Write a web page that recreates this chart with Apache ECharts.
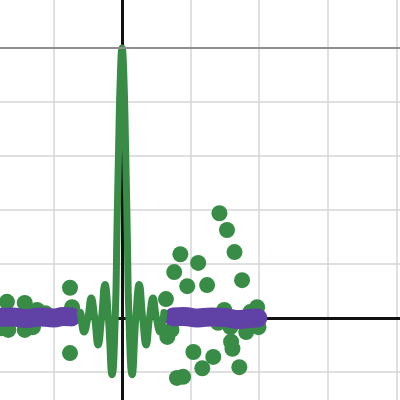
<!DOCTYPE html>
<html>
<head>
<meta charset="utf-8">
<script src="https://cdn.jsdelivr.net/npm/echarts@6/dist/echarts.min.js"></script>
<style>
  html, body { margin: 0; padding: 0; background: #fff; overflow: hidden; width: 400px; height: 400px; }
  /* chart is a bit bigger than the window so the axes land where the reference has them */
  #chart { position: absolute; left: -15px; top: -6px; width: 425px; height: 432px; }
</style>
</head>
<body>
<div id="chart"></div>
<script>
  // green wave (zeros + peaks)
  var curveX = [-0.61, -0.6, -0.555, -0.5, -0.45, -0.4, -0.35, -0.3, -0.25, -0.2, -0.146, -0.1, -0.075, -0.05, -0.025, 0,
                0.025, 0.05, 0.075, 0.1, 0.146, 0.2, 0.25, 0.3, 0.35, 0.4, 0.45, 0.5, 0.555, 0.6, 0.61];
  var curveY = [0.1, 0, -0.26, 0, 0.37, 0, -0.5, 0, 0.62, 0, -1.05, 0, 1.6, 3.2, 4.5, 5,
                4.5, 3.2, 1.6, 0, -1.05, 0, 0.62, 0, -0.5, 0, 0.37, 0, -0.26, 0, 0.1];

  // green dots
  var dotX = [-1.76, -1.68, -1.42, -1.24, -1.66, -1.42, -1.30, -1.12, -0.91, -0.76, -0.73, -0.76, -0.66,
              1.42, 1.53, 1.64, 1.75, 0.85, 1.11, 0.76, 0.95, 1.24, 0.64, 1.49, 1.97, 1.87, 1.99, 1.81,
              1.58, 1.59, 1.61, 0.66, 0.72, 1.04, 1.33, 1.17, 1.71, 0.80, 0.89, 1.40];
  var dotY = [-0.19, 0.30, 0.28, 0.15, -0.22, -0.22, -0.17, 0.09, 0.04, 0.56, 0.20, -0.65, 0.04,
              1.94, 1.63, 1.22, 0.70, 1.18, 1.02, 0.85, 0.59, 0.61, 0.35, 0.15, 0.20, 0.11, -0.17, -0.26,
              -0.17, -0.44, -0.57, -0.35, -0.22, -0.63, -0.72, -0.93, -0.91, -1.11, -1.09, -0.09];

  // purple band
  var bandLeftX = [-1.9, -1.6, -1.4, -1.2, -1.0, -0.85, -0.74];
  var bandLeftY = [0.0, 0.02, -0.01, 0.02, 0.0, 0.03, 0.02];
  var bandRightX = [0.75, 0.9, 1.1, 1.3, 1.5, 1.7, 1.85, 1.98];
  var bandRightY = [0.02, 0.03, 0.0, 0.02, 0.01, -0.03, -0.01, 0.0];

  var refLine = 5;

  function pairs(xs, ys) {
    return xs.map(function (x, i) { return [x, ys[i]]; });
  }

  var green = '#388c46';
  var purple = '#6042a6';

  var option = {
    animation: false,
    grid: { left: 0, right: 0, top: 0, bottom: 0 },
    xAxis: {
      type: 'value', min: -2, max: 4.2, interval: 1,
      axisLine: { onZero: true, lineStyle: { color: '#111', width: 3 } },
      axisTick: { show: false },
      axisLabel: { show: false },
      splitLine: { lineStyle: { color: '#d6d6d6', width: 1.5 } }
    },
    yAxis: {
      type: 'value', min: -2, max: 6, interval: 1,
      axisLine: { onZero: true, lineStyle: { color: '#111', width: 3 } },
      axisTick: { show: false },
      axisLabel: { show: false },
      splitLine: { lineStyle: { color: '#d6d6d6', width: 1.5 } }
    },
    series: [
      {
        type: 'scatter',
        data: pairs(dotX, dotY),
        symbolSize: 16,
        itemStyle: { color: green, opacity: 1 },
        markLine: {
          silent: true,
          symbol: 'none',
          label: { show: false },
          lineStyle: { color: '#8f8f8f', width: 2, type: 'solid' },
          data: [{ yAxis: refLine }]
        },
        z: 2
      },
      {
        type: 'line',
        data: pairs(bandLeftX, bandLeftY),
        smooth: true,
        showSymbol: false,
        lineStyle: { color: purple, width: 19, cap: 'round' },
        z: 3
      },
      {
        type: 'line',
        data: pairs(bandRightX, bandRightY),
        smooth: true,
        showSymbol: false,
        lineStyle: { color: purple, width: 19, cap: 'round' },
        z: 3
      },
      {
        type: 'line',
        data: pairs(curveX, curveY),
        smooth: 0.5,
        showSymbol: false,
        lineStyle: { color: green, width: 7, join: 'round', cap: 'round' },
        z: 4
      }
    ]
  };

  var myChart = echarts.init(document.getElementById('chart'));
  myChart.setOption(option);
  window.addEventListener('resize', function () { myChart.resize(); });
</script>
</body>
</html>
